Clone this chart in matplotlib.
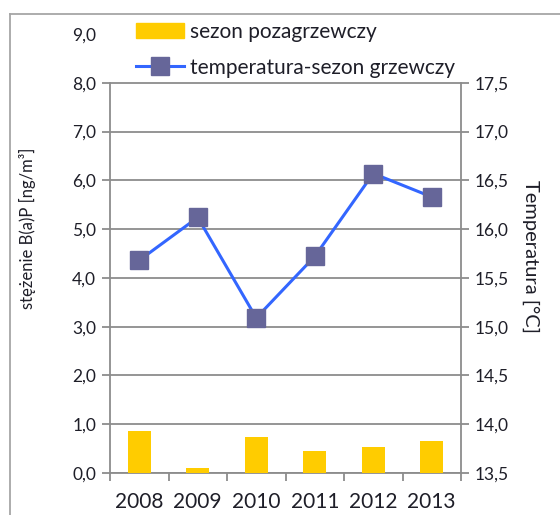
import numpy as np
import matplotlib.pyplot as plt
from matplotlib.lines import Line2D
from matplotlib.patches import Rectangle

plt.rcParams['font.family'] = ['Lato', 'DejaVu Sans']

years = ['2008', '2009', '2010', '2011', '2012', '2013']
bap_non_heating = [0.87, 0.11, 0.73, 0.45, 0.54, 0.65]
temp_heating = [15.68, 16.12, 15.09, 15.72, 16.57, 16.33]

left_ticks = np.arange(0, 10, 1)
right_ticks = np.arange(13.5, 18.01, 0.5)

txt = '#1e1e28'
grid_c = '#8c8c8c'

fig = plt.figure(figsize=(5.6, 5.15), dpi=100)
ax1 = fig.add_axes([110 / 560, 1 - 473 / 515, 351 / 560, 439 / 515])
ax2 = ax1.twinx()

x = np.arange(len(years))
ax1.bar(x, bap_non_heating, width=0.4, color='#FFCC00', zorder=3)
ax2.plot(x, temp_heating, color='#3366FF', lw=2.2, marker='s', ms=13,
         mfc='#666699', mec='#666699', zorder=4)

ax1.set_xlim(-0.5, len(years) - 0.5)
ax1.set_ylim(0, 9)
ax2.set_ylim(13.5, 18.0)

ax1.set_yticks(left_ticks)
ax1.set_yticklabels([f'{v:.1f}'.replace('.', ',') for v in left_ticks])
ax2.set_yticks(right_ticks)
ax2.set_yticklabels([f'{v:.1f}'.replace('.', ',') for v in right_ticks])

ax1.set_xticks(x)
ax1.set_xticklabels(years)
ax1.set_xticks(np.arange(-0.5, len(years)), minor=True)
ax1.tick_params(axis='x', which='major', length=0, labelsize=15, colors=txt, pad=14)
ax1.tick_params(axis='x', which='minor', length=6, width=1.3, color=grid_c)
ax1.tick_params(axis='y', length=6, width=1.3, color=grid_c, labelsize=12.5,
                labelcolor=txt, pad=4)
ax2.tick_params(axis='y', length=6, width=1.3, color=grid_c, labelsize=12.5,
                labelcolor=txt, pad=4)

ax1.yaxis.grid(True, color=grid_c, lw=1.3)
ax1.set_axisbelow(True)
ax1.get_ygridlines()[-1].set_visible(False)
ax1.yaxis.get_major_ticks()[-1].tick1line.set_visible(False)
ax2.yaxis.get_major_ticks()[-1].tick2line.set_visible(False)
ax2.yaxis.get_major_ticks()[-1].label2.set_visible(False)

for ax in (ax1, ax2):
    ax.spines['top'].set_visible(False)
    for s in ('left', 'right', 'bottom'):
        ax.spines[s].set_color(grid_c)
        ax.spines[s].set_linewidth(1.3)
ax1.spines['left'].set_bounds(0, 8)
ax1.spines['right'].set_visible(False)
ax2.spines['left'].set_visible(False)
ax2.spines['bottom'].set_visible(False)
ax2.spines['right'].set_bounds(13.5, 17.5)

ax1.set_ylabel('stężenie B(a)P [ng/m³]', fontsize=12, color=txt)
ax1.yaxis.set_label_coords(-0.212, 0.558)
ax2.set_ylabel('Temperatura [°C]', fontsize=14.5, color=txt, rotation=-90)
ax2.yaxis.set_label_coords(1.222, 0.494)

handles = [Rectangle((0, 0), 1, 1, color='#FFCC00'),
           Line2D([], [], color='#3366FF', lw=2.2, marker='s', ms=13,
                  mfc='#666699', mec='#666699')]
labels = ['sezon pozagrzewczy', 'temperatura-sezon grzewczy']
fig.legend(handles, labels, loc='upper left', bbox_to_anchor=(136 / 560, 1 - 22 / 515),
           frameon=False, fontsize=15, handlelength=2.3, handletextpad=0.3,
           labelspacing=0.75, borderpad=0, borderaxespad=0, labelcolor=txt)

# outer chart border (left and top edges)
fig.add_artist(Line2D([10 / 560, 10 / 560], [0, 1 - 14 / 515], color='#a6a6a6', lw=1.3))
fig.add_artist(Line2D([10 / 560, 1], [1 - 14 / 515, 1 - 14 / 515], color='#a6a6a6', lw=1.3))

fig.savefig('out.png', dpi=100)
